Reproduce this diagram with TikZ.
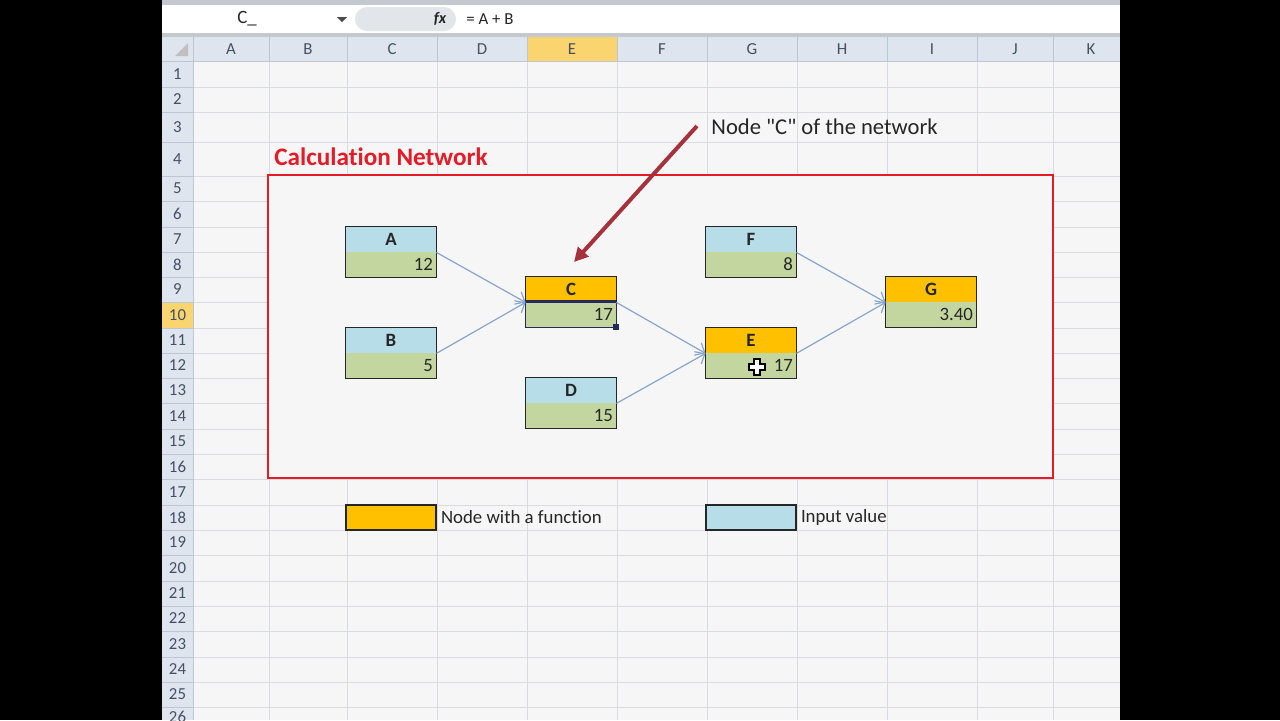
\documentclass[tikz,border=0pt]{standalone}
\usepackage{fontspec}
\setmainfont{Carlito}[Ligatures={TeXOff,NoCommon}]
\usetikzlibrary{arrows.meta, positioning}
\definecolor{sheetbg}{RGB}{246,246,246}
\definecolor{gridc}{RGB}{216,219,223}
\definecolor{headbg}{RGB}{222,229,238}
\definecolor{headln}{RGB}{188,198,212}
\definecolor{headtxt}{RGB}{70,80,100}
\definecolor{inblue}{RGB}{183,221,232}
\definecolor{valgreen}{RGB}{196,214,160}
\definecolor{fnorange}{RGB}{255,192,0}
\definecolor{netred}{RGB}{228,28,40}
\definecolor{callred}{RGB}{165,50,60}
\definecolor{linkblue}{RGB}{135,165,205}
\definecolor{selnavy}{RGB}{40,40,90}
\definecolor{selhead}{RGB}{250,212,110}
\definecolor{barline}{RGB}{196,201,208}
\definecolor{pillgray}{RGB}{226,229,233}
\begin{document}
\begin{tikzpicture}[x=0.5pt, y=-0.5pt,
    every node/.style={inner sep=0pt, text=black!85, font=\fontsize{9.4}{10}\selectfont},
    hd/.style={minimum width=45pt, minimum height=12.5pt, font=\fontsize{9.4}{10}\selectfont\bfseries},
    val/.style={minimum width=45pt, minimum height=12.5pt, fill=valgreen, text width=42pt, align=right},
    cellframe/.style={draw=black!85, line width=0.6pt},
    link/.style={draw=linkblue, line width=0.6pt, -{Straight Barb[length=4pt, width=7pt]}},
    callout/.style={draw=callred, line width=2pt, -{Triangle[length=7pt, width=7pt]}},
    headlabel/.style={text=headtxt, font=\fontsize{8.4}{9}\selectfont}]

    \useasboundingbox (0,0) rectangle (1280,720);
    \fill[black] (0,0) rectangle (1280,720);

    % formula bar
    \fill[barline] (162,0) rectangle (1120,37);
    \fill[white] (162,5) rectangle (1120,33);
    \fill[pillgray, rounded corners=6pt] (355,7) rectangle (456,31);
    \fill[white] (458,7) rectangle (1120,31);
    \fill[black!70] (337,17) -- (347,17) -- (342,22) -- cycle;
    \node (namebox) at (247,19) {C\_};
    \node[font=\fontsize{8}{9}\selectfont\bfseries\itshape] (fx) at (440,19) {fx};
    \node[anchor=west, font=\fontsize{8.4}{9}\selectfont] (formula) at (466,19) {= A + B};

    % sheet and grid
    \fill[sheetbg] (162,61) rectangle (1120,720);
    \foreach \x in {269,347,437,527,617,707,797,887,977,1053}
        \draw[gridc, line width=0.5pt] (\x,61) -- (\x,720);
    \foreach \y in {87,112,142,176,201,227,252,277,302,328,353,378,403,429,454,479,505,530,555,581,606,631,657,682,707}
        \draw[gridc, line width=0.5pt] (193,\y) -- (1120,\y);

    % headers
    \fill[headbg] (162,37) rectangle (1120,61);
    \fill[headbg] (162,61) rectangle (193,720);
    \fill[selhead] (527,37) rectangle (617,61);
    \fill[selhead] (162,302) rectangle (193,328);
    \fill[black!25] (188,43) -- (188,56) -- (175,56) -- cycle;
    \foreach \l/\a/\b in {A/193/269, B/269/347, C/347/437, D/437/527, E/527/617, F/617/707, G/707/797, H/797/887, I/887/977, J/977/1053} {
        \draw[headln, line width=0.5pt] (\b,37) -- (\b,61);
        \node[headlabel] (col\l) at ({(\a+\b)/2},49) {\l};
    }
    \node[headlabel] (colK) at (1091,49) {K};
    \foreach \t/\b [count=\i] in {61/87, 87/112, 112/142, 142/176, 176/201, 201/227, 227/252, 252/277, 277/302, 302/328, 328/353, 353/378, 378/403, 403/429, 429/454, 454/479, 479/505, 505/530, 530/555, 555/581, 581/606, 606/631, 631/657, 657/682, 682/707} {
        \draw[headln, line width=0.5pt] (162,\b) -- (193,\b);
        \node[headlabel] (row\i) at (177.5,{(\t+\b)/2}) {\i};
    }
    \node[headlabel, anchor=north] (row26) at (177.5,711) {26};
    \draw[headln, line width=0.5pt] (162,61) -- (1120,61);
    \draw[headln, line width=0.5pt] (193,37) -- (193,720);

    % network frame
    \fill[sheetbg] (268,175) rectangle (1053,478);
    \draw[netred, line width=1pt] (268,175) rectangle (1053,478);
    \node[anchor=base west, text=netred, font=\fontsize{12.6}{14}\selectfont\bfseries] (title) at (274,165) {Calculation Network};

    \node[hd, fill=inblue] (Ahd) at (391,239.5) {A};
    \node[val] (Aval) at (391,264.5) {12};
    \node[hd, fill=inblue] (Bhd) at (391,340.5) {B};
    \node[val] (Bval) at (391,365.5) {5};
    \node[hd, fill=fnorange] (Chd) at (571,289.5) {C};
    \node[val] (Cval) at (571,314.5) {17};
    \node[hd, fill=inblue] (Dhd) at (571,390.5) {D};
    \node[val] (Dval) at (571,415.5) {15};
    \node[hd, fill=inblue] (Fhd) at (751,239.5) {F};
    \node[val] (Fval) at (751,264.5) {8};
    \node[hd, fill=fnorange] (Ehd) at (751,340.5) {E};
    \node[val] (Eval) at (751,365.5) {17};
    \node[hd, fill=fnorange] (Ghd) at (931,289.5) {G};
    \node[val] (Gval) at (931,314.5) {3.40};

    \foreach \n in {A,B,C,D,E,F,G}
        \draw[cellframe] (\n hd.north west) rectangle (\n val.south east);

    % selected cell
    \draw[selnavy, line width=0.8pt] (Cval.north west) rectangle (Cval.south east);
    \draw[selnavy, line width=1.6pt] (Cval.north west) -- (Cval.north east);
    \fill[selnavy] ([xshift=-1.5pt, yshift=1.5pt]Cval.south east) rectangle ([xshift=1.5pt, yshift=-1.5pt]Cval.south east);

    \draw[link] (Ahd.south east) -- (Chd.south west);
    \draw[link] (Bhd.south east) -- (Chd.south west);
    \draw[link] (Chd.south east) -- (Ehd.south west);
    \draw[link] (Dhd.south east) -- (Ehd.south west);
    \draw[link] (Fhd.south east) -- (Ghd.south west);
    \draw[link] (Ehd.south east) -- (Ghd.south west);

    % callout
    \node[anchor=west, font=\fontsize{11.3}{13}\selectfont] (note) at (711,127) {Node "C" of the network};
    \coordinate (notetail) at (697,126);
    \coordinate (notetip) at (574,262);
    \draw[callout] (notetail) -- (notetip);

    % legend
    \node[hd, fill=fnorange, draw=black!85, line width=0.6pt] (keyfn) at (391,517.5) {};
    \node[right=2pt of keyfn] (keyfntxt) {Node with a function};
    \node[hd, fill=inblue, draw=black!85, line width=0.6pt] (keyin) at (751,517.5) {};
    \node[right=2pt of keyin] (keyintxt) {Input value};

    % mouse cursor
    \draw[black, fill=white, line width=0.6pt] (754,359) -- (760,359) -- (760,364) -- (765,364) -- (765,370) -- (760,370) -- (760,375) -- (754,375) -- (754,370) -- (749,370) -- (749,364) -- (754,364) -- cycle;

\end{tikzpicture}
\end{document}
